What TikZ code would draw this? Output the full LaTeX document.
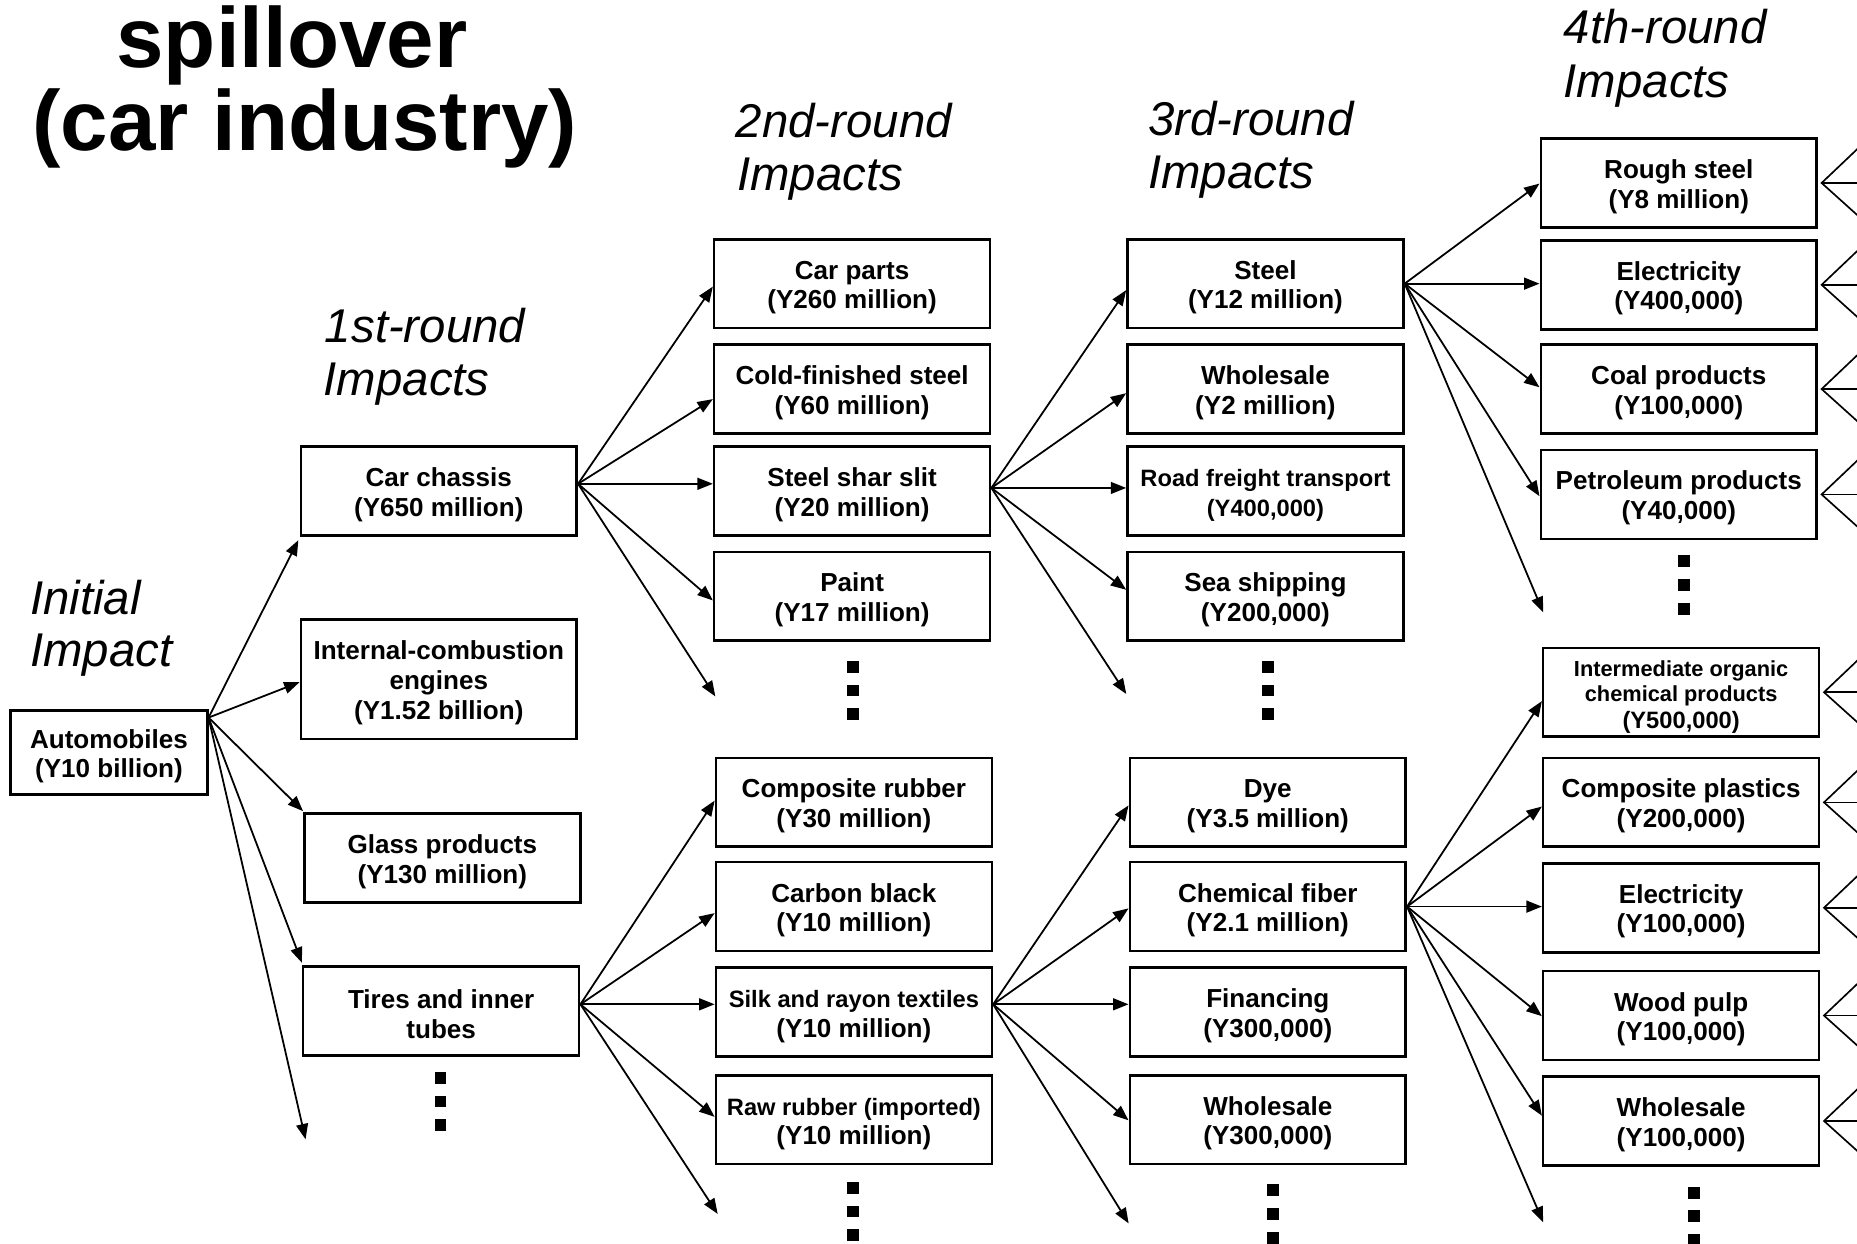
\documentclass[tikz,border=0pt]{standalone}
\usepackage{fontspec}
\setmainfont{Liberation Sans}
\usetikzlibrary{arrows.meta,calc}
\newcommand\bxup{\rule{0pt}{11pt}}
\newcommand\bxnorm{\fontsize{11}{12.5}\selectfont}
\begin{document}
\begin{tikzpicture}[x=0.5pt,y=-0.5pt,
  box/.style={draw,line width=1.1pt,minimum width=116.5pt,minimum height=37.5pt,align=center,inner sep=1pt,font=\fontsize{11}{12.5}\selectfont\bfseries},
  small/.style={font=\fontsize{10}{12.5}\selectfont\bfseries},
  tiny/.style={font=\fontsize{9.2}{10.2}\selectfont\bfseries},
  arr/.style={-{Triangle[length=6.5pt,width=5pt]},line width=0.75pt},
  fan/.style={line width=0.7pt},
  rnd/.style={font=\fontsize{20}{22.5}\selectfont\itshape,anchor=base west,inner sep=0pt},
  ttl/.style={font=\fontsize{36}{36}\selectfont\bfseries,anchor=base,inner sep=0pt},
  dotsq/.style={fill=black,minimum size=5pt,inner sep=0pt},
]
\useasboundingbox (0,0) rectangle (1568,1050);
\clip (0,0) rectangle (1568,1050);

% titles
\node[ttl] (t1) at (246.5,57) {spillover};
\node[ttl] (t2) at (257.5,127) {(car industry)};

\node[rnd] (r0a) at (25,519) {Initial};
\node[rnd] (r0b) at (25,563) {Impact};
\node[rnd] (r1a) at (274,289) {1st-round};
\node[rnd] (r1b) at (273,334) {Impacts};
\node[rnd] (r2a) at (621,116) {2nd-round};
\node[rnd] (r2b) at (622,161) {Impacts};
\node[rnd] (r3a) at (969,114) {3rd-round};
\node[rnd] (r3b) at (969,159) {Impacts};
\node[rnd] (r4a) at (1320,37) {4th-round};
\node[rnd] (r4b) at (1320,82) {Impacts};

% boxes
\node[box,minimum width=83pt,minimum height=35.5pt] (auto) at (92,635.5) {\bxup Automobiles\\(Y10 billion)};

\node[box] (c1a) at (370.5,414.5) {\bxup Car chassis\\(Y650 million)};
\node[box,minimum height=50.5pt] (c1b) at (370.5,573.5) {\bxup Internal-combustion\\engines\\(Y1.52 billion)};
\node[box] (c1c) at (373.5,724.5) {\bxup Glass products\\(Y130 million)};
\node[box] (c1d) at (372.5,853.5) {\bxup Tires and inner\\tubes};

\node[box] (c2a) at (719.5,239.5) {\bxup Car parts\\(Y260 million)};
\node[box] (c2b) at (719.5,328.5) {\bxup Cold-finished steel\\(Y60 million)};
\node[box] (c2c) at (719.5,414.5) {\bxup Steel shar slit\\(Y20 million)};
\node[box] (c2d) at (719.5,503.5) {\bxup Paint\\(Y17 million)};
\node[box] (c2e) at (721,677.5) {\bxup Composite rubber\\(Y30 million)};
\node[box] (c2f) at (721,765.5) {\bxup Carbon black\\(Y10 million)};
\node[box,small] (c2g) at (721,854.5) {\bxup Silk and rayon textiles\\{\bxnorm (Y10 million)}};
\node[box,small] (c2h) at (721,945.5) {\bxup Raw rubber (imported)\\{\bxnorm (Y10 million)}};

\node[box] (c3a) at (1068.5,239.5) {\bxup Steel\\(Y12 million)};
\node[box] (c3b) at (1068.5,328.5) {\bxup Wholesale\\(Y2 million)};
\node[box,small] (c3c) at (1068.5,414.5) {\bxup Road freight transport\\(Y400,000)};
\node[box] (c3d) at (1068.5,503.5) {\bxup Sea shipping\\(Y200,000)};
\node[box] (c3e) at (1070.5,677.5) {\bxup Dye\\(Y3.5 million)};
\node[box] (c3f) at (1070.5,765.5) {\bxup Chemical fiber\\(Y2.1 million)};
\node[box] (c3g) at (1070.5,854.5) {\bxup Financing\\(Y300,000)};
\node[box] (c3h) at (1070.5,945.5) {\bxup Wholesale\\(Y300,000)};

\node[box] (c4a) at (1417.5,154.5) {\bxup Rough steel\\(Y8 million)};
\node[box] (c4b) at (1417.5,240.5) {\bxup Electricity\\(Y400,000)};
\node[box] (c4c) at (1417.5,328.5) {\bxup Coal products\\(Y100,000)};
\node[box] (c4d) at (1417.5,417.5) {\bxup Petroleum products\\(Y40,000)};
\node[box,tiny] (c4e) at (1419.5,584.5) {\bxup Intermediate organic\\chemical products\\[1.5pt]{\fontsize{10}{11}\selectfont (Y500,000)}};
\node[box] (c4f) at (1419.5,677.5) {\bxup Composite plastics\\(Y200,000)};
\node[box] (c4g) at (1419.5,766.5) {\bxup Electricity\\(Y100,000)};
\node[box] (c4h) at (1419.5,857.5) {\bxup Wood pulp\\(Y100,000)};
\node[box] (c4i) at (1419.5,946.5) {\bxup Wholesale\\(Y100,000)};

% dots
\foreach \n/\x/\y in {a/372/910, b/720/563, c/720/1003, d/1071/563, e/1075/1005, f/1422/474, g/1430/1007} {
  \foreach \k in {0,1,2} \node[dotsq] (dot\n\k) at (\x,{\y+20*\k}) {};
}

% source points
\coordinate (s0) at ($(auto.north east)+(0,7)$);
\coordinate (s1) at ($(c1a.east)+(0,-6)$);
\coordinate (s1d) at ($(c1d.east)+(0,-5.5)$);
\coordinate (s2c) at ($(c2c.east)+(0,-2.5)$);
\coordinate (s2g) at ($(c2g.east)+(0,-6.5)$);
\coordinate (s3a) at (c3a.east);
\coordinate (s3f) at (c3f.east);

% free ends
\coordinate (f0) at (258,962);
\coordinate (f1) at (604,588);
\coordinate (f2) at (951,586);
\coordinate (f3) at (606,1025);
\coordinate (f4) at (953,1033);
\coordinate (f5) at (1303,517);
\coordinate (f6) at (1303,1032);

% arrows from Automobiles
\draw[arr] (s0) -- ($(c1a.south west)+(-1,3)$);
\draw[arr] (s0) -- ($(c1b.west)+(0,2.5)$);
\draw[arr] (s0) -- ($(c1c.north west)+(0,-1)$);
\draw[arr] (s0) -- ($(c1d.north west)+(0,-2)$);
\draw[arr] (s0) -- (f0);

% from Car chassis
\draw[arr] (s1) -- ($(c2a.west)+(0,2.5)$);
\draw[arr] (s1) -- ($(c2b.west)+(0,8.5)$);
\draw[arr] (s1) -- (s1 -| c2c.west);
\draw[arr] (s1) -- ($(c2d.west)+(0,3.5)$);
\draw[arr] (s1) -- (f1);

% from Steel shar slit
\draw[arr] (s2c) -- ($(c3a.west)+(0,5.5)$);
\draw[arr] (s2c) -- ($(c3b.west)+(0,3.5)$);
\draw[arr] (s2c) -- (s2c -| c3c.west);
\draw[arr] (s2c) -- ($(c3d.west)+(0,-5.5)$);
\draw[arr] (s2c) -- (f2);

% from Tires
\draw[arr] (s1d) -- ($(c2e.west)+(0,-1.5)$);
\draw[arr] (s1d) -- ($(c2f.west)+(0,5.5)$);
\draw[arr] (s1d) -- (s1d -| c2g.west);
\draw[arr] (s1d) -- ($(c2h.west)+(0,-2.5)$);
\draw[arr] (s1d) -- (f3);

% from Silk
\draw[arr] (s2g) -- ($(c3e.west)+(0,2.5)$);
\draw[arr] (s2g) -- ($(c3f.west)+(0,1.5)$);
\draw[arr] (s2g) -- (s2g -| c3g.west);
\draw[arr] (s2g) -- ($(c3h.west)+(0,0.5)$);
\draw[arr] (s2g) -- (f4);

% from Steel
\draw[arr] (s3a) -- ($(c4a.west)+(0,0.5)$);
\draw[arr] (s3a) -- (s3a -| c4b.west);
\draw[arr] (s3a) -- ($(c4c.west)+(0,-1.5)$);
\draw[arr] (s3a) -- ($(c4d.west)+(0,1.5)$);
\draw[arr] (s3a) -- (f5);

% from Chemical fiber
\draw[arr] (s3f) -- ($(c4e.west)+(0,7.5)$);
\draw[arr] (s3f) -- ($(c4f.west)+(0,3.5)$);
\draw[arr] (s3f) -- (s3f -| c4g.west);
\draw[arr] (s3f) -- ($(c4h.west)+(0,0.5)$);
\draw[arr] (s3f) -- ($(c4i.west)+(0,-4.5)$);
\draw[arr] (s3f) -- (f6);

% fans to the right (cut by the page edge)
\foreach \b in {c4a,c4b,c4c,c4d,c4e,c4f,c4g,c4h,c4i} {
  \coordinate (p\b) at ($(\b.east)+(3,0)$);
  \draw[fan] ($(p\b)+(40,-38)$) -- (p\b) -- ($(p\b)+(40,36)$);
  \draw[fan] (p\b) -- ($(p\b)+(40,0)$);
}
\end{tikzpicture}
\end{document}
